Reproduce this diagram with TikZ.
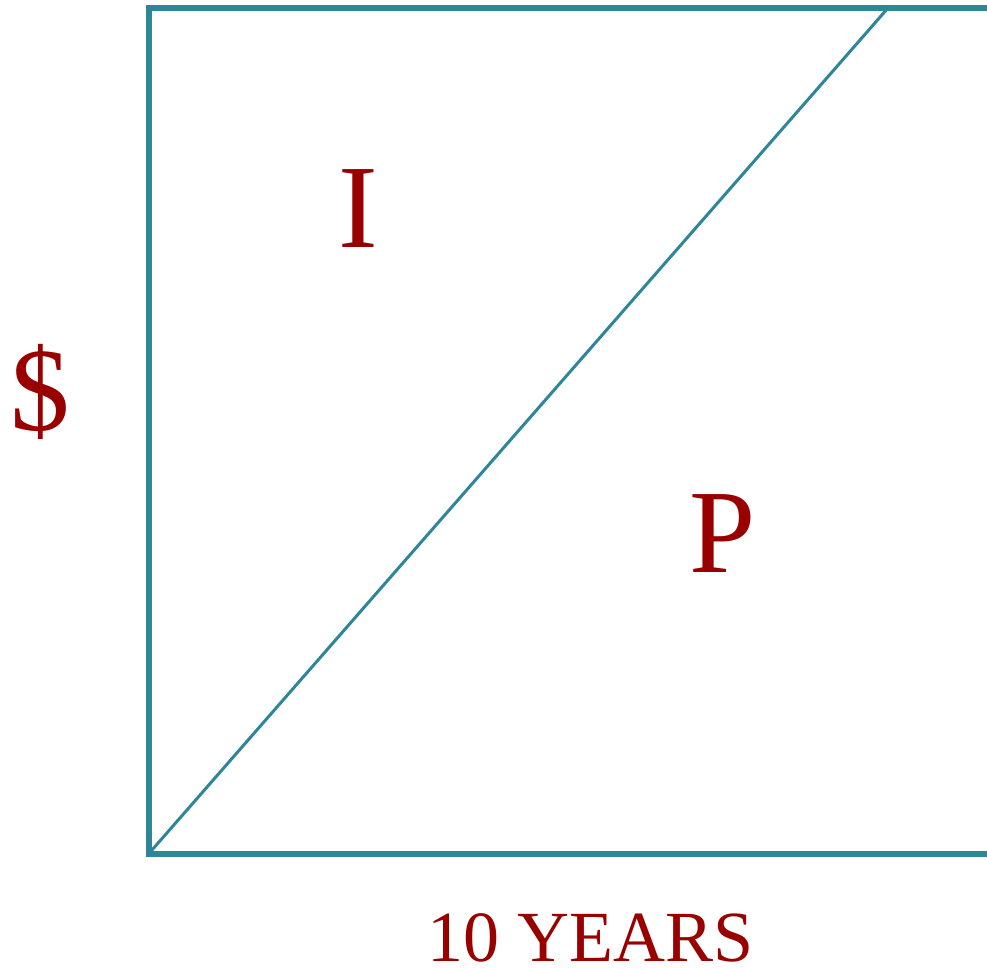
\documentclass[tikz,border=0pt]{standalone}
\usepackage{fontspec}
\setmainfont{Liberation Serif}
\definecolor{teal1}{RGB}{46,134,153}
\definecolor{dred}{RGB}{153,0,0}
\tikzset{
  frame/.style={draw=teal1, line width=6pt},
  diag/.style={draw=teal1, line width=3pt},
  biglbl/.style={text=dred, font=\fontsize{119}{119}\selectfont, inner sep=0pt, anchor=base},
  axlbl/.style={text=dred, font=\fontsize{72}{72}\selectfont, inner sep=0pt, anchor=base},
}
\begin{document}
\begin{tikzpicture}[x=1pt,y=-1pt]
\useasboundingbox (0,0) rectangle (987,967);
\coordinate (tl) at (148.5,8);
\coordinate (tr) at (990,8);
\coordinate (bl) at (148.5,854);
\coordinate (br) at (990,854);
\coordinate (dtop) at (888,8);
\draw[frame, line cap=rect] (tr) -- (tl) -- (bl) -- (br);
\draw[diag] (bl) -- (dtop);
\node[biglbl] (I) at (358,247) {I};
\node[biglbl] (P) at (723,572) {P};
\node[biglbl] (dollar) at (40,430) {\$};
\node[axlbl] (years) at (591,961) {10 YEARS};
\end{tikzpicture}
\end{document}
